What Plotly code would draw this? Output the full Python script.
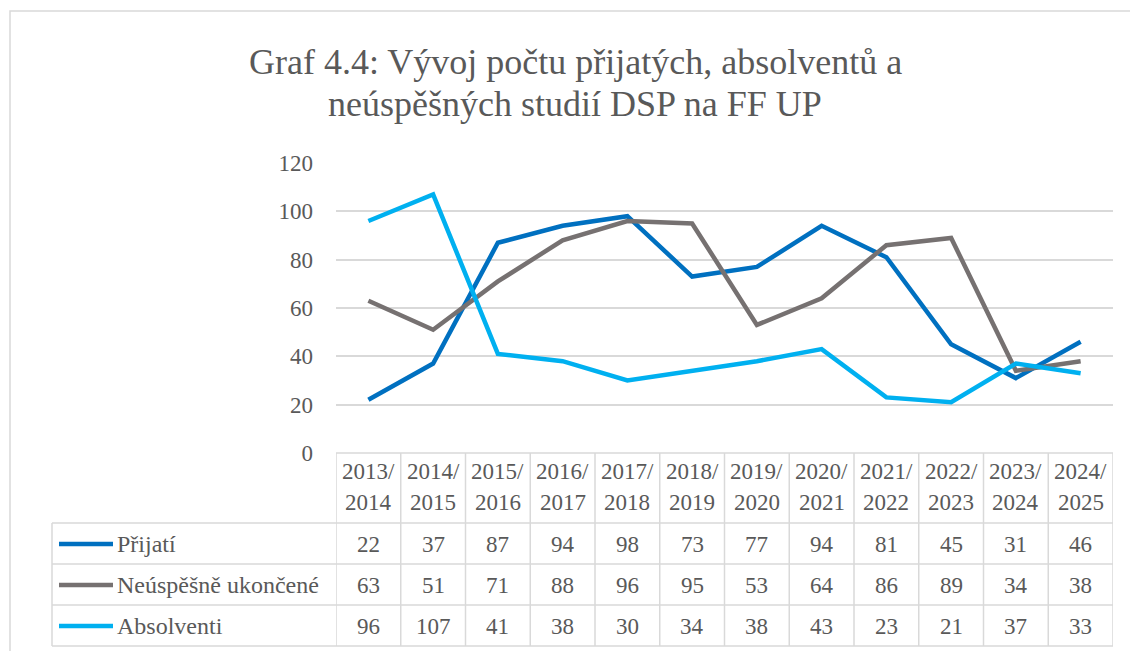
import plotly.graph_objects as go

categories = ["2013/2014", "2014/2015", "2015/2016", "2016/2017", "2017/2018", "2018/2019",
              "2019/2020", "2020/2021", "2021/2022", "2022/2023", "2023/2024", "2024/2025"]
prijati = [22, 37, 87, 94, 98, 73, 77, 94, 81, 45, 31, 46]
neuspesne = [63, 51, 71, 88, 96, 95, 53, 64, 86, 89, 34, 38]
absolventi = [96, 107, 41, 38, 30, 34, 38, 43, 23, 21, 37, 33]
series_names = ["Přijatí", "Neúspěšně ukončené", "Absolventi"]
series_values = [prijati, neuspesne, absolventi]
series_colors = ["#0070C0", "#767171", "#00B0F0"]
y_ticks = [0, 20, 40, 60, 80, 100, 120]
title_lines = ["Graf 4.4: Vývoj počtu přijatých, absolventů a", "neúspěšných studií DSP na FF UP"]

W, H = 1130, 651
FONT = "Liberation Serif"
TXT = "#595959"
GRID = "#D9D9D9"


def px(x):
    return x / W


def py(y):
    return 1 - y / H


plot_l, plot_r, plot_t, plot_b = 336, 1113, 163, 453
table_l = 52
header_rows = [471, 502]
row_lines = [523, 564, 605, 646]
row_centres = [544, 585, 626]

fig = go.Figure()
x_idx = list(range(len(categories)))
for name, vals, col in zip(series_names, series_values, series_colors):
    fig.add_trace(go.Scatter(x=x_idx, y=vals, mode="lines", name=name,
                             line=dict(color=col, width=4.5), showlegend=False))

shapes = []
shapes.append(dict(type="rect", xref="paper", yref="paper", x0=px(10), x1=px(W + 20),
                   y0=py(11), y1=py(H + 20), line=dict(color=GRID, width=1.5)))
shapes.append(dict(type="line", xref="x", yref="paper", x0=-0.5, x1=len(categories) - 0.5,
                   y0=py(plot_b), y1=py(plot_b), line=dict(color=GRID, width=1.5)))
for yl in row_lines:
    shapes.append(dict(type="line", xref="paper", yref="paper", x0=px(table_l), x1=px(plot_r),
                       y0=py(yl), y1=py(yl), line=dict(color=GRID, width=1.5)))
shapes.append(dict(type="line", xref="paper", yref="paper", x0=px(table_l), x1=px(table_l),
                   y0=py(row_lines[0]), y1=py(row_lines[-1]), line=dict(color=GRID, width=1.5)))
for k in range(len(categories) + 1):
    shapes.append(dict(type="line", xref="x", yref="paper", x0=k - 0.5, x1=k - 0.5,
                       y0=py(plot_b), y1=py(row_lines[-1]), line=dict(color=GRID, width=1.5)))
for yc, col in zip(row_centres, series_colors):
    shapes.append(dict(type="line", xref="paper", yref="paper", x0=px(59), x1=px(113),
                       y0=py(yc), y1=py(yc), line=dict(color=col, width=4.5)))

ann = []
for i, line in enumerate(title_lines):
    ann.append(dict(text=line, xref="paper", yref="paper", x=px(575), y=py([62, 104][i]),
                    xanchor="center", yanchor="middle", showarrow=False,
                    font=dict(family=FONT, size=36, color=TXT)))
for i, cat in enumerate(categories):
    a, b = cat.split("/")
    for t, yc in zip([a + "/", b], header_rows):
        ann.append(dict(text=t, xref="x", yref="paper", x=i, y=py(yc), xanchor="center",
                        yanchor="middle", showarrow=False,
                        font=dict(family=FONT, size=23, color=TXT)))
for name, vals, yc in zip(series_names, series_values, row_centres):
    ann.append(dict(text=name, xref="paper", yref="paper", x=px(115), y=py(yc), xanchor="left",
                    yanchor="middle", showarrow=False, font=dict(family=FONT, size=24, color=TXT)))
    for i, v in enumerate(vals):
        ann.append(dict(text=str(v), xref="x", yref="paper", x=i, y=py(yc), xanchor="center",
                        yanchor="middle", showarrow=False,
                        font=dict(family=FONT, size=23, color=TXT)))

fig.update_layout(
    width=W, height=H, margin=dict(l=0, r=0, t=0, b=0, pad=0, autoexpand=False),
    paper_bgcolor="white", plot_bgcolor="white",
    showlegend=False, shapes=shapes, annotations=ann,
    xaxis=dict(domain=[px(plot_l), px(plot_r)], range=[-0.5, len(categories) - 0.5],
               showticklabels=False, showgrid=False, zeroline=False, showline=False,
               automargin=False),
    yaxis=dict(domain=[py(plot_b), py(plot_t)], range=[0, 120], tickvals=y_ticks,
               showgrid=True, gridcolor=GRID, gridwidth=1.5, zeroline=False, showline=False,
               ticks="", ticklabelstandoff=22, automargin=False,
               tickfont=dict(family=FONT, size=23, color=TXT)),
)

fig.write_html("out.html", config={"displayModeBar": False},
               post_script="document.body.style.margin='0';document.body.style.overflow='hidden';")
